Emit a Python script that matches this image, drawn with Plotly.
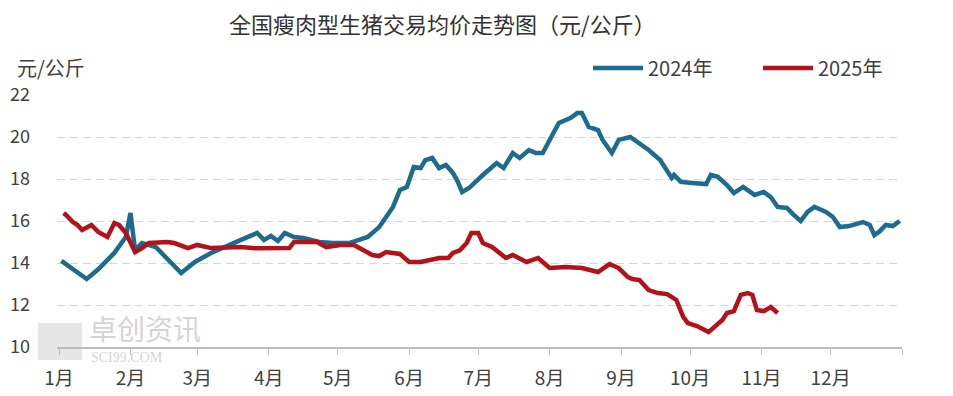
import datetime as dt
import plotly.graph_objects as go

# ---- data ----
# day offsets from 1 January, and price in 元/公斤
days_2024 = [1, 12, 17, 24, 29, 31, 33, 36, 42, 53, 59, 66, 79, 86, 89, 92, 95, 98, 102, 106,
             113, 119, 126, 134, 139, 142, 145, 148, 151, 154, 157, 159, 162, 165, 168, 171,
             173, 175, 178, 184, 190, 193, 197, 200, 204, 207, 210, 213, 217, 222, 225, 227,
             230, 234, 236, 240, 243, 248, 252, 256, 261, 266, 267, 270, 275, 281, 283, 286,
             290, 293, 297, 302, 306, 309, 312, 316, 319, 322, 325, 328, 333, 336, 339, 343,
             349, 352, 354, 356, 359, 362, 365]
price_2024 = [14.10, 13.24, 13.70, 14.48, 15.24, 16.38, 14.62, 14.95, 14.76, 13.52, 14.05, 14.48,
              15.10, 15.43, 15.10, 15.29, 15.05, 15.43, 15.24, 15.19, 15.00, 14.95, 14.95, 15.24,
              15.71, 16.19, 16.67, 17.48, 17.62, 18.57, 18.52, 18.90, 19.00, 18.52, 18.67, 18.29,
              17.90, 17.38, 17.57, 18.19, 18.76, 18.52, 19.24, 19.00, 19.38, 19.24, 19.24, 19.86,
              20.67, 20.90, 21.14, 21.14, 20.48, 20.33, 19.86, 19.24, 19.86, 20.00, 19.71, 19.38,
              18.90, 18.05, 18.19, 17.86, 17.81, 17.76, 18.19, 18.10, 17.71, 17.33, 17.62, 17.24,
              17.38, 17.14, 16.67, 16.62, 16.29, 16.00, 16.43, 16.67, 16.43, 16.19, 15.71, 15.76,
              15.95, 15.81, 15.33, 15.48, 15.81, 15.76, 16.00]

days_2025 = [2, 3, 6, 8, 10, 14, 17, 21, 24, 26, 29, 33, 36, 39, 47, 50, 56, 60, 66, 73, 79, 85,
             100, 102, 112, 116, 122, 128, 132, 136, 139, 142, 148, 152, 157, 161, 165, 169, 171,
             174, 177, 179, 182, 184, 188, 194, 197, 203, 208, 213, 220, 227, 234, 239, 243, 247,
             249, 252, 256, 260, 264, 268, 271, 273, 277, 282, 284, 288, 290, 293, 296, 299, 301,
             303, 306, 309, 310, 312]
price_2025 = [16.38, 16.29, 15.95, 15.81, 15.57, 15.81, 15.48, 15.24, 15.90, 15.81, 15.43, 14.52,
              14.71, 14.95, 15.00, 14.95, 14.71, 14.86, 14.71, 14.76, 14.76, 14.70, 14.71, 15.00,
              15.00, 14.76, 14.86, 14.86, 14.62, 14.38, 14.33, 14.52, 14.43, 14.05, 14.05, 14.14,
              14.24, 14.24, 14.48, 14.60, 14.95, 15.43, 15.43, 14.95, 14.76, 14.24, 14.38, 14.05,
              14.24, 13.76, 13.81, 13.76, 13.57, 13.95, 13.76, 13.33, 13.24, 13.19, 12.71, 12.57,
              12.52, 12.24, 11.43, 11.14, 11.00, 10.71, 10.90, 11.29, 11.62, 11.71, 12.48, 12.57,
              12.48, 11.76, 11.71, 11.90, 11.81, 11.62]

month_labels = ["1月", "2月", "3月", "4月", "5月", "6月", "7月", "8月", "9月", "10月", "11月", "12月"]
series_names = ["2024年", "2025年"]
title_text = "全国瘦肉型生猪交易均价走势图（元/公斤）"
unit_text = "元/公斤"
watermark_cn = "卓创资讯"
watermark_en = "SCI99.COM"

# month start offsets (leap-year calendar)
base = dt.date(2024, 1, 1)
month_starts = [(dt.date(2024, m, 1) - base).days for m in range(1, 13)]
tick_vals = month_starts + [366]
tick_text = month_labels + [""]

BLUE = "#1d6b8e"
RED = "#b3121b"
FONT = "Noto Sans CJK SC, sans-serif"
GREY_TXT = "#404040"

# the page body adds an 8 px margin; the figure is sized to fill the rest of the window
W, H = 945, 388
L, R, T, B = 49, 51, 87, 49
PW, PH = W - L - R, H - T - B


def px(xf):   # figure x pixel -> paper x
    return (xf - L) / PW


def py(yf):   # figure y pixel -> paper y
    return (H - B - yf) / PH


fig = go.Figure()
fig.add_trace(go.Scatter(x=days_2024, y=price_2024, mode="lines", name=series_names[0],
                         line=dict(color=BLUE, width=4.5)))
fig.add_trace(go.Scatter(x=days_2025, y=price_2025, mode="lines", name=series_names[1],
                         line=dict(color=RED, width=4.5)))

fig.update_layout(
    width=W, height=H,
    margin=dict(l=L, r=R, t=T, b=B, autoexpand=False),
    paper_bgcolor="white", plot_bgcolor="white",
    font=dict(family=FONT, color=GREY_TXT, size=17),
    showlegend=True,
    legend=dict(orientation="h", x=px(580), xanchor="left", y=py(60), yanchor="middle",
                font=dict(size=20, color=GREY_TXT), itemwidth=50,
                bgcolor="rgba(0,0,0,0)", tracegroupgap=0, entrywidth=105),
)

fig.update_xaxes(
    range=[-0.9, 366], tickmode="array", tickvals=tick_vals, ticktext=tick_text,
    showgrid=False, zeroline=False,
    showline=True, linecolor="#bdbdbd", linewidth=2,
    ticks="outside", ticklen=6, tickcolor="#bdbdbd", tickwidth=1,
    tickfont=dict(size=19, color=GREY_TXT),
    ticklabelstandoff=7,
)
fig.update_yaxes(
    range=[10, 22], tickvals=[10, 12, 14, 16, 18, 20, 22],
    showgrid=True, gridcolor="#d6d6d6", griddash="8px,5px", gridwidth=1,
    zeroline=False, showline=False, ticks="",
    tickfont=dict(size=18, color=GREY_TXT),
    ticklabelstandoff=26,
)

# chart title
fig.add_annotation(text=title_text, xref="paper", yref="paper", x=px(434), xanchor="center",
                   y=py(15), yanchor="middle", showarrow=False,
                   font=dict(size=22, color="#333333", family=FONT))

fig.add_annotation(text=unit_text, xref="paper", yref="paper", x=px(7), xanchor="left",
                   y=py(60), yanchor="middle", showarrow=False,
                   font=dict(size=20, color=GREY_TXT, family=FONT))

# watermark
fig.add_shape(type="rect", xref="paper", yref="paper", x0=px(30), x1=px(74), y0=py(352), y1=py(315),
              line=dict(width=0), fillcolor="rgba(200,200,200,0.45)", layer="below")
fig.add_annotation(text=watermark_cn, xref="paper", yref="paper", x=px(79), xanchor="left",
                   y=py(320), yanchor="middle", showarrow=False,
                   font=dict(size=28, color="rgba(175,175,175,0.55)", family=FONT))
fig.add_annotation(text=watermark_en, xref="paper", yref="paper", x=px(81), xanchor="left",
                   y=py(349), yanchor="middle", showarrow=False,
                   font=dict(size=14, color="rgba(175,175,175,0.55)", family="Liberation Serif"))

fig.write_html("out.html")
